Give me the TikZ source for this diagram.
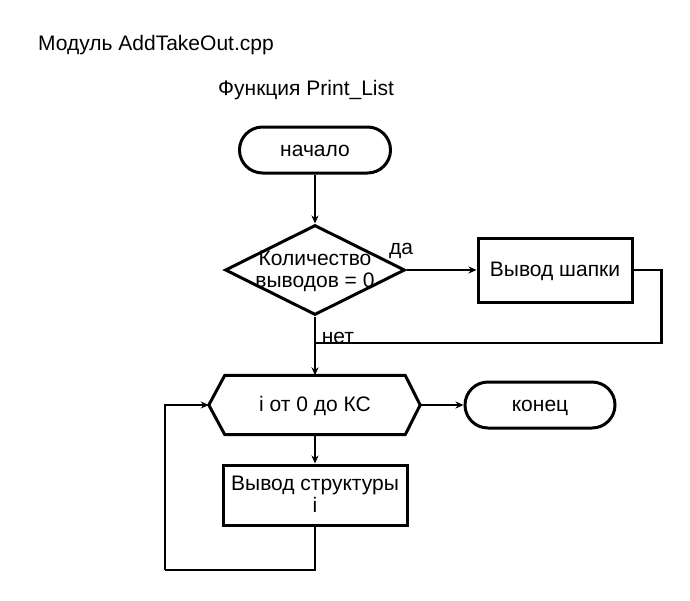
\documentclass[tikz,border=0pt]{standalone}
\usepackage{fontspec}
\setmainfont{Liberation Sans}
\usetikzlibrary{arrows.meta}
\usetikzlibrary{shapes.geometric}
\usetikzlibrary{positioning}
\tikzset{txt/.style = {text height = 15, text depth = 2}}
\tikzset{txttwo/.style = {align = center, text height = 37, text depth = 2}}
\tikzset{term/.style = {draw, txt, line width = 3, rounded corners = 23, minimum width = 151, minimum height = 46}}
\tikzset{cond/.style = {draw, diamond, line width = 3, inner sep = 0, minimum width = 180, minimum height = 90}}
\tikzset{proc/.style = {draw, txt, line width = 3, minimum width = 154, minimum height = 64}}
\tikzset{flow/.style = {line width = 2.4, -{Stealth[length = 8, width = 7]}}}
\tikzset{line/.style = {line width = 2.4}}

\begin{document}
\begin{tikzpicture}[x = 1pt, y = -1pt, font = \fontsize{21}{22}\selectfont]
      \useasboundingbox (0, 0) rectangle (690, 600);

      \node [anchor = west, inner sep = 0] at (38, 45) (module) {Модуль AddTakeOut.cpp};
      \node [anchor = west, inner sep = 0] at (218, 90) (func) {Функция Print\_List};

      \node [term] at (315, 150) (start) {начало};
      \node [cond] at (315, 270) (dec) {};
      \node [txttwo] at (315, 270) (dectext) {Количество\\выводов = 0};
      \node [proc] at (555, 270) (hdr) {Вывод шапки};

      \node [txt, minimum width = 180, minimum height = 59] at (315, 405) (loop) {i от 0 до КС};
      \coordinate (loopW) at ([xshift = -16] loop.west);
      \coordinate (loopE) at ([xshift = 15] loop.east);
      \draw [line width = 3] (loop.north west) -- (loop.north east) -- (loopE)
            -- (loop.south east) -- (loop.south west) -- (loopW) -- cycle;

      \node [term, minimum width = 150] at (540, 405) (fin) {конец};
      \node [proc, txttwo, minimum width = 184, minimum height = 60] at (315, 495) (body) {Вывод структуры\\i};

      \node [txt] at (401, 248) (yes) {да};
      \node [txt] at (338, 337) (no) {нет};

      \coordinate (join) at (315, 343);
      \coordinate (back) at (165, 570);

      \draw [flow] (start) -- (dec);
      \draw [flow] (dec.east) -- (hdr);
      \draw [line] (hdr.east) -- ++(28, 0) |- (join);
      \draw [flow] (dec.south) -- (loop);
      \draw [flow] (loopE) -- (fin);
      \draw [flow] (loop) -- (body);
      \draw [line] (body.south) |- (back);
      \draw [flow] (back) |- (loopW);
    \end{tikzpicture}
\end{document}
